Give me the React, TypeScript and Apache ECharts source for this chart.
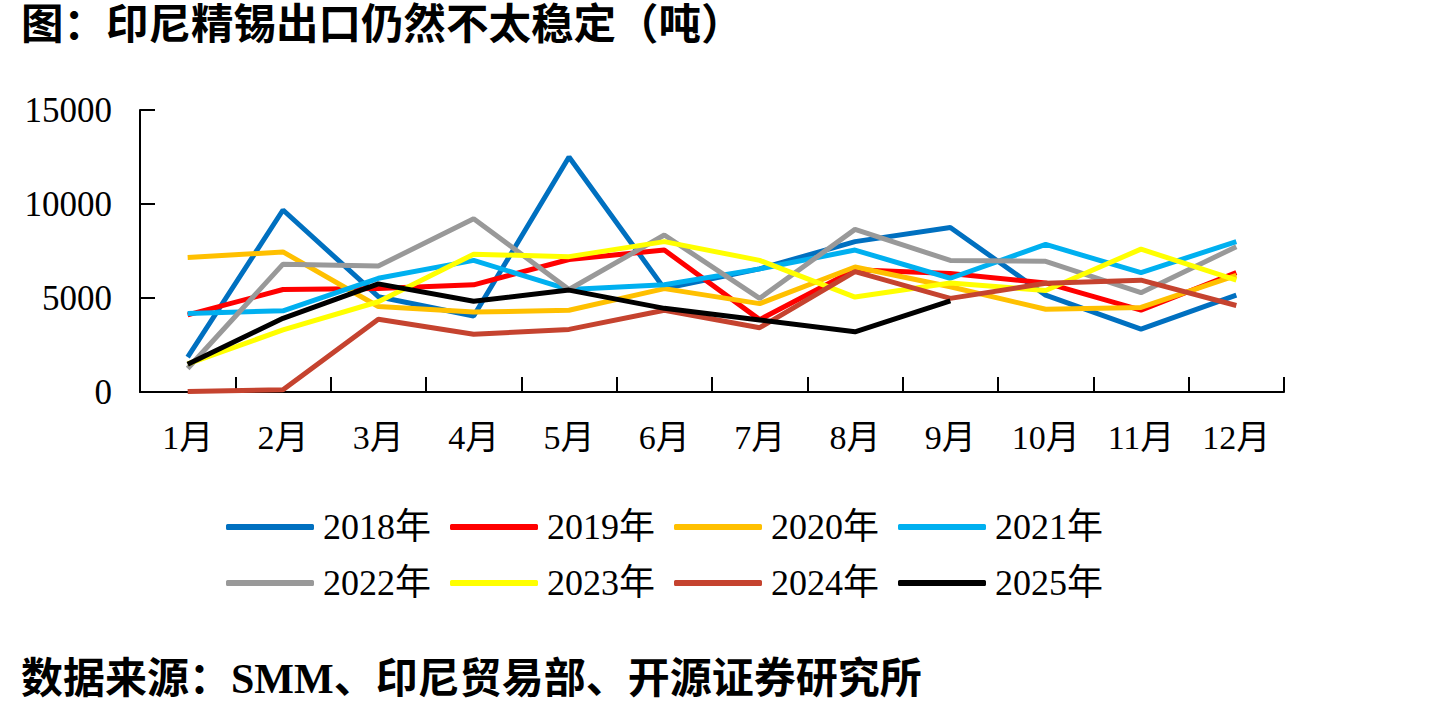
import React, { useEffect, useRef } from "react";
import * as echarts from "echarts";

const months = ["1月", "2月", "3月", "4月", "5月", "6月", "7月", "8月", "9月", "10月", "11月", "12月"];
const yTicks = [0, 5000, 10000, 15000];

const seriesNames = ["2018年", "2019年", "2020年", "2021年", "2022年", "2023年", "2024年", "2025年"];
const seriesColors = ["#0070C0", "#FF0000", "#FFC000", "#00B0F0", "#999999", "#FFFF00", "#C5432F", "#000000"];

const y2018 = [1850, 9680, 5070, 4040, 12500, 5500, 6550, 8000, 8750, 5150, 3350, 5150];
const y2019 = [4100, 5450, 5500, 5700, 7050, 7550, 3850, 6500, 6300, 5800, 4350, 6350];
const y2020 = [7150, 7450, 4550, 4250, 4350, 5500, 4700, 6650, 5600, 4400, 4500, 6200];
const y2021 = [4180, 4320, 6050, 7000, 5450, 5700, 6550, 7550, 6050, 7850, 6350, 8000];
const y2022 = [1250, 6800, 6700, 9220, 5450, 8350, 4980, 8650, 7000, 6950, 5280, 7730];
const y2023 = [1500, 3300, 4800, 7330, 7200, 8000, 7000, 5050, 5800, 5400, 7600, 5950];
const y2024 = [20, 120, 3870, 3070, 3330, 4350, 3420, 6400, 4980, 5780, 5950, 4600];
const y2025 = [1480, 3920, 5750, 4830, 5420, 4450, 3830, 3200, 4850];

const allData = [y2018, y2019, y2020, y2021, y2022, y2023, y2024, y2025];

const titleText = "图：印尼精锡出口仍然不太稳定（吨）";
const sourceText = "数据来源：SMM、印尼贸易部、开源证券研究所";

const FONT = '"Times New Roman", "Liberation Serif", "Noto Sans CJK SC", serif';

export default function App() {
  const ref = useRef<HTMLDivElement>(null);
  useEffect(() => {
    if (!ref.current) return;
    const chart = echarts.init(ref.current, null, { renderer: "svg" });
    const legendCommon = {
      orient: "horizontal",
      icon: "roundRect",
      itemWidth: 88,
      itemHeight: 6,
      itemGap: 19,
      textStyle: { fontFamily: FONT, fontSize: 36, color: "#000", padding: [0, 0, 0, 4] },
      padding: 0,
    };
    chart.setOption({
      animation: false,
      backgroundColor: "#fff",
      textStyle: { fontFamily: FONT },
      title: [
        {
          text: titleText,
          left: 21,
          top: 3,
          padding: 0,
          textStyle: { fontFamily: FONT, fontSize: 42.5, fontWeight: "bold", color: "#000" },
        },
        {
          text: sourceText,
          left: 21,
          top: 658,
          padding: 0,
          textStyle: { fontFamily: FONT, fontSize: 42, fontWeight: "bold", color: "#000" },
        },
      ],
      legend: [
        { ...legendCommon, left: 226, top: 509, data: seriesNames.slice(0, 4) },
        { ...legendCommon, left: 226, top: 565, data: seriesNames.slice(4, 8) },
      ],
      grid: { left: 140, right: 154, top: 110, bottom: 321, containLabel: false },
      xAxis: {
        type: "category",
        data: months,
        boundaryGap: true,
        axisLine: { show: true, lineStyle: { color: "#000", width: 2 } },
        axisTick: { show: true, inside: true, length: 15, alignWithLabel: false, lineStyle: { color: "#000", width: 2 } },
        axisLabel: { fontFamily: FONT, fontSize: 34, color: "#000", margin: 28 },
        splitLine: { show: false },
      },
      yAxis: {
        type: "value",
        min: yTicks[0],
        max: yTicks[yTicks.length - 1],
        interval: 5000,
        axisLine: { show: true, lineStyle: { color: "#000", width: 2 } },
        axisTick: { show: true, inside: true, length: 15, lineStyle: { color: "#000", width: 2 } },
        axisLabel: {
          fontFamily: FONT,
          fontSize: 35,
          color: "#000",
          margin: 28,
          formatter: (v: number) => String(v),
        },
        splitLine: { show: false },
      },
      series: seriesNames.map((name, i) => ({
        name,
        type: "line",
        data: allData[i],
        symbol: "none",
        showSymbol: false,
        color: seriesColors[i],
        lineStyle: { color: seriesColors[i], width: 5 },
        itemStyle: { color: seriesColors[i] },
      })),
    });
    return () => chart.dispose();
  }, []);
  return (
    <div
      ref={ref}
      style={{ position: "fixed", left: 0, top: 0, width: 1438, height: 713, background: "#fff" }}
    />
  );
}
